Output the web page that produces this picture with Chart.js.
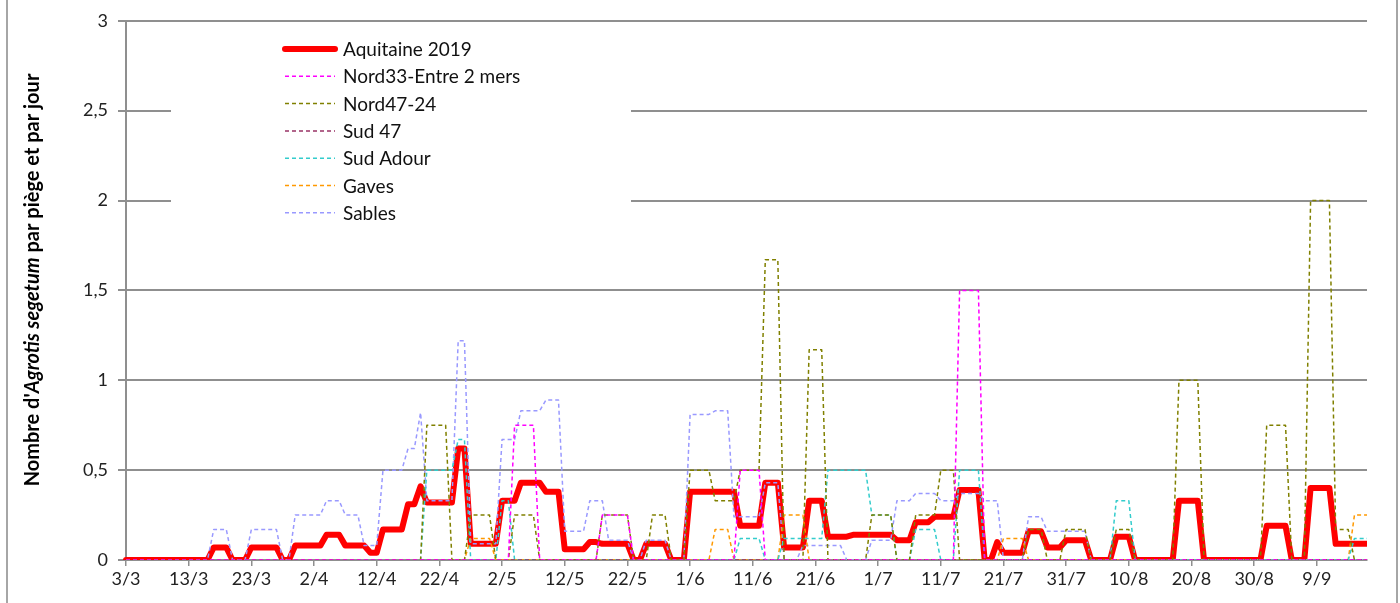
<!DOCTYPE html>
<html>
<head>
<meta charset="utf-8">
<script src="https://cdn.jsdelivr.net/npm/chart.js@4.4.1/dist/chart.umd.min.js"></script>
<style>
  body { margin: 0; background: #fff; }
  #wrap { width: 1400px; height: 603px; }
</style>
</head>
<body>
<div id="wrap"><canvas id="piegeChart" width="1400" height="603"></canvas></div>
<script>
// one value per day, from 3/3 (index 0) to 17/9 (index 198)
const startDay = new Date(2019, 2, 3);
const tickLabels = ['3/3', '13/3', '23/3', '2/4', '12/4', '22/4', '2/5', '12/5', '22/5', '1/6',
  '11/6', '21/6', '1/7', '11/7', '21/7', '31/7', '10/8', '20/8', '30/8', '9/9'];
const yTicks = [0, 0.5, 1, 1.5, 2, 2.5, 3];

const aquitaine = [
  0, 0, 0, 0, 0, 0, 0, 0, 0, 0,
  0, 0, 0, 0, 0.07, 0.07, 0.07, 0, 0, 0,
  0.07, 0.07, 0.07, 0.07, 0.07, 0, 0, 0.08, 0.08, 0.08,
  0.08, 0.08, 0.14, 0.14, 0.14, 0.08, 0.08, 0.08, 0.08, 0.04,
  0.04, 0.17, 0.17, 0.17, 0.17, 0.31, 0.31, 0.41, 0.32, 0.32,
  0.32, 0.32, 0.32, 0.62, 0.62, 0.09, 0.09, 0.09, 0.09, 0.09,
  0.33, 0.33, 0.33, 0.43, 0.43, 0.43, 0.43, 0.38, 0.38, 0.38,
  0.06, 0.06, 0.06, 0.06, 0.10, 0.10, 0.09, 0.09, 0.09, 0.09,
  0.09, 0, 0, 0.09, 0.09, 0.09, 0.09, 0, 0, 0,
  0.38, 0.38, 0.38, 0.38, 0.38, 0.38, 0.38, 0.38, 0.19, 0.19,
  0.19, 0.19, 0.43, 0.43, 0.43, 0.07, 0.07, 0.07, 0.07, 0.33,
  0.33, 0.33, 0.13, 0.13, 0.13, 0.13, 0.14, 0.14, 0.14, 0.14,
  0.14, 0.14, 0.14, 0.11, 0.11, 0.11, 0.21, 0.21, 0.21, 0.24,
  0.24, 0.24, 0.24, 0.39, 0.39, 0.39, 0.39, 0, 0, 0.10,
  0.04, 0.04, 0.04, 0.04, 0.16, 0.16, 0.16, 0.07, 0.07, 0.07,
  0.11, 0.11, 0.11, 0.11, 0, 0, 0, 0, 0.13, 0.13,
  0.13, 0, 0, 0, 0, 0, 0, 0, 0.33, 0.33,
  0.33, 0.33, 0, 0, 0, 0, 0, 0, 0, 0,
  0, 0, 0.19, 0.19, 0.19, 0.19, 0, 0, 0, 0.40,
  0.40, 0.40, 0.40, 0.09, 0.09, 0.09, 0.09, 0.09, 0.09
];

const nord33 = [
  0, 0, 0, 0, 0, 0, 0, 0, 0, 0,
  0, 0, 0, 0, 0, 0, 0, 0, 0, 0,
  0, 0, 0, 0, 0, 0, 0, 0, 0, 0,
  0, 0, 0, 0, 0, 0, 0, 0, 0, 0,
  0, 0, 0, 0, 0, 0, 0, 0, 0, 0,
  0, 0, 0, 0, 0, 0, 0, 0, 0, 0,
  0, 0, 0.75, 0.75, 0.75, 0.75, 0, 0, 0, 0,
  0, 0, 0, 0, 0, 0, 0.25, 0.25, 0.25, 0.25,
  0.25, 0, 0, 0, 0, 0, 0, 0, 0, 0,
  0, 0, 0, 0, 0, 0, 0, 0, 0.5, 0.5,
  0.5, 0.5, 0, 0, 0, 0, 0, 0, 0, 0,
  0, 0, 0, 0, 0, 0, 0, 0, 0, 0,
  0, 0, 0, 0, 0, 0, 0, 0, 0, 0,
  0, 0, 0, 1.5, 1.5, 1.5, 1.5, 0, 0, 0,
  0, 0, 0, 0, 0, 0, 0, 0, 0, 0,
  0, 0, 0, 0, 0, 0, 0, 0, 0, 0,
  0, 0, 0, 0, 0, 0, 0, 0, 0, 0,
  0, 0, 0, 0, 0, 0, 0, 0, 0, 0,
  0, 0, 0, 0, 0, 0, 0, 0, 0, 0,
  0, 0, 0, 0, 0, 0, 0, 0, 0
];

const nord47 = [
  0, 0, 0, 0, 0, 0, 0, 0, 0, 0,
  0, 0, 0, 0, 0, 0, 0, 0, 0, 0,
  0, 0, 0, 0, 0, 0, 0, 0, 0, 0,
  0, 0, 0, 0, 0, 0, 0, 0, 0, 0,
  0, 0, 0, 0, 0, 0, 0, 0, 0.75, 0.75,
  0.75, 0.75, 0, 0, 0, 0.25, 0.25, 0.25, 0.25, 0,
  0, 0, 0.25, 0.25, 0.25, 0.25, 0, 0, 0, 0,
  0, 0, 0, 0, 0, 0, 0.25, 0.25, 0.25, 0.25,
  0.25, 0, 0, 0, 0.25, 0.25, 0.25, 0, 0, 0,
  0.5, 0.5, 0.5, 0.5, 0.33, 0.33, 0.33, 0.33, 0.5, 0.5,
  0.5, 0.5, 1.67, 1.67, 1.67, 0, 0, 0, 0, 1.17,
  1.17, 1.17, 0, 0, 0, 0, 0, 0, 0, 0.25,
  0.25, 0.25, 0.25, 0, 0, 0, 0.25, 0.25, 0.25, 0.25,
  0.5, 0.5, 0.5, 0, 0, 0, 0, 0, 0, 0,
  0, 0, 0, 0, 0.17, 0.17, 0.17, 0, 0, 0,
  0.17, 0.17, 0.17, 0.17, 0, 0, 0, 0, 0.17, 0.17,
  0.17, 0, 0, 0, 0, 0, 0, 0, 1, 1,
  1, 1, 0, 0, 0, 0, 0, 0, 0, 0,
  0, 0, 0.75, 0.75, 0.75, 0.75, 0, 0, 0, 2,
  2, 2, 2, 0.17, 0.17, 0.17, 0, 0, 0
];

const sud47 = [
  0, 0, 0, 0, 0, 0, 0, 0, 0, 0,
  0, 0, 0, 0, 0, 0, 0, 0, 0, 0,
  0, 0, 0, 0, 0, 0, 0, 0, 0, 0,
  0, 0, 0, 0, 0, 0, 0, 0, 0, 0,
  0, 0, 0, 0, 0, 0, 0, 0, 0, 0,
  0, 0, 0, 0, 0, 0, 0, 0, 0, 0,
  0, 0, 0, 0, 0, 0, 0, 0, 0, 0,
  0, 0, 0, 0, 0, 0, 0, 0, 0, 0,
  0, 0, 0, 0, 0, 0, 0, 0, 0, 0,
  0, 0, 0, 0, 0, 0, 0, 0, 0, 0,
  0, 0, 0, 0, 0, 0, 0, 0, 0, 0,
  0, 0, 0, 0, 0, 0, 0, 0, 0, 0,
  0, 0, 0, 0, 0, 0, 0, 0, 0, 0,
  0, 0, 0, 0, 0, 0, 0, 0, 0, 0,
  0, 0, 0, 0, 0, 0, 0, 0, 0, 0,
  0, 0, 0, 0, 0, 0, 0, 0, 0, 0,
  0, 0, 0, 0, 0, 0, 0, 0, 0, 0,
  0, 0, 0, 0, 0, 0, 0, 0, 0, 0,
  0, 0, 0, 0, 0, 0, 0, 0, 0, 0,
  0, 0, 0, 0, 0, 0, 0, 0, 0
];

const sudAdour = [
  0, 0, 0, 0, 0, 0, 0, 0, 0, 0,
  0, 0, 0, 0, 0, 0, 0, 0, 0, 0,
  0, 0, 0, 0, 0, 0, 0, 0, 0, 0,
  0, 0, 0, 0, 0, 0, 0, 0, 0, 0,
  0, 0, 0, 0, 0, 0, 0, 0, 0.5, 0.5,
  0.5, 0.5, 0.5, 0.67, 0.67, 0, 0, 0, 0, 0,
  0.33, 0.33, 0, 0, 0, 0, 0, 0, 0, 0,
  0, 0, 0, 0, 0, 0, 0, 0, 0, 0,
  0, 0, 0, 0, 0, 0, 0, 0, 0, 0,
  0, 0, 0, 0, 0, 0, 0, 0, 0.12, 0.12,
  0.12, 0.12, 0, 0, 0, 0.12, 0.12, 0.12, 0.12, 0.12,
  0.12, 0.12, 0.5, 0.5, 0.5, 0.5, 0.5, 0.5, 0.5, 0.25,
  0.25, 0.25, 0.25, 0, 0, 0, 0.17, 0.17, 0.17, 0.17,
  0, 0, 0, 0.5, 0.5, 0.5, 0.5, 0, 0, 0,
  0, 0, 0, 0, 0, 0, 0, 0, 0, 0,
  0, 0, 0, 0, 0, 0, 0, 0, 0.33, 0.33,
  0.33, 0, 0, 0, 0, 0, 0, 0, 0, 0,
  0, 0, 0, 0, 0, 0, 0, 0, 0, 0,
  0, 0, 0, 0, 0, 0, 0, 0, 0, 0,
  0, 0, 0, 0, 0, 0, 0.12, 0.12, 0.12
];

const gaves = [
  0, 0, 0, 0, 0, 0, 0, 0, 0, 0,
  0, 0, 0, 0, 0, 0, 0, 0, 0, 0,
  0, 0, 0, 0, 0, 0, 0, 0, 0, 0,
  0, 0, 0, 0, 0, 0, 0, 0, 0, 0,
  0, 0, 0, 0, 0, 0, 0, 0, 0, 0,
  0, 0, 0, 0, 0, 0.12, 0.12, 0.12, 0.12, 0,
  0, 0, 0, 0, 0, 0, 0, 0, 0, 0,
  0, 0, 0, 0, 0, 0, 0, 0, 0, 0,
  0, 0, 0, 0, 0, 0, 0, 0, 0, 0,
  0, 0, 0, 0, 0.17, 0.17, 0.17, 0, 0, 0,
  0, 0, 0, 0, 0, 0.25, 0.25, 0.25, 0.25, 0,
  0, 0, 0, 0, 0, 0, 0, 0, 0, 0,
  0, 0, 0, 0, 0, 0, 0, 0, 0, 0,
  0, 0, 0, 0, 0, 0, 0, 0, 0, 0,
  0.12, 0.12, 0.12, 0.12, 0, 0, 0, 0, 0, 0,
  0, 0, 0, 0, 0, 0, 0, 0, 0, 0,
  0, 0, 0, 0, 0, 0, 0, 0, 0, 0,
  0, 0, 0, 0, 0, 0, 0, 0, 0, 0,
  0, 0, 0, 0, 0, 0, 0, 0, 0, 0,
  0, 0, 0, 0, 0, 0, 0.25, 0.25, 0.25
];

const sables = [
  0, 0, 0, 0, 0, 0, 0, 0, 0, 0,
  0, 0, 0, 0, 0.17, 0.17, 0.17, 0, 0, 0,
  0.17, 0.17, 0.17, 0.17, 0.17, 0, 0, 0.25, 0.25, 0.25,
  0.25, 0.25, 0.33, 0.33, 0.33, 0.25, 0.25, 0.25, 0.08, 0.08,
  0.08, 0.5, 0.5, 0.5, 0.5, 0.62, 0.62, 0.82, 0.33, 0.33,
  0.33, 0.33, 0.33, 1.22, 1.22, 0.09, 0.09, 0.09, 0.09, 0.09,
  0.67, 0.67, 0.67, 0.83, 0.83, 0.83, 0.83, 0.89, 0.89, 0.89,
  0.16, 0.16, 0.16, 0.16, 0.33, 0.33, 0.33, 0.11, 0.11, 0.11,
  0.11, 0, 0, 0.11, 0.11, 0.11, 0.11, 0, 0, 0,
  0.81, 0.81, 0.81, 0.81, 0.83, 0.83, 0.83, 0.24, 0.24, 0.24,
  0.24, 0.24, 0.43, 0.43, 0.43, 0, 0, 0, 0.08, 0.08,
  0.08, 0.08, 0.08, 0.08, 0.08, 0, 0, 0, 0, 0.11,
  0.11, 0.11, 0.11, 0.33, 0.33, 0.33, 0.37, 0.37, 0.37, 0.37,
  0.33, 0.33, 0.33, 0.37, 0.37, 0.37, 0.37, 0.33, 0.33, 0.33,
  0, 0, 0, 0, 0.24, 0.24, 0.24, 0.16, 0.16, 0.16,
  0.16, 0.16, 0.16, 0.16, 0, 0, 0, 0, 0, 0,
  0, 0, 0, 0, 0, 0, 0, 0, 0, 0,
  0, 0, 0, 0, 0, 0, 0, 0, 0, 0,
  0, 0, 0, 0, 0, 0, 0, 0, 0, 0,
  0, 0, 0, 0, 0, 0, 0, 0, 0
];

const seriesNames = ['Aquitaine 2019', 'Nord33-Entre 2 mers', 'Nord47-24', 'Sud 47', 'Sud Adour', 'Gaves', 'Sables'];
const seriesColors = ['#ff0000', '#ff00ff', '#808000', '#993366', '#33cccc', '#ff9900', '#9999ff'];
const seriesValues = [aquitaine, nord33, nord47, sud47, sudAdour, gaves, sables];

const dayLabels = aquitaine.map((v, i) => {
  const d = new Date(startDay);
  d.setDate(d.getDate() + i);
  return d.getDate() + '/' + (d.getMonth() + 1);
});

const GRID = '#8f8f8f';
const FONT = 'Lato, "Liberation Sans", sans-serif';

// legend box drawn inside the plot, like the spreadsheet original
const boxLegend = {
  id: 'boxLegend',
  afterDatasetsDraw(chart) {
    const c = chart.ctx;
    c.save();
    c.fillStyle = '#fff';
    c.fillRect(171, 27, 460, 214);
    c.font = '19px ' + FONT;
    c.textBaseline = 'middle';
    seriesNames.forEach((name, i) => {
      const y = 49 + i * 27.3;
      c.beginPath();
      c.strokeStyle = seriesColors[i];
      if (i === 0) {
        c.lineWidth = 6;
        c.setLineDash([]);
        c.lineCap = 'round';
      } else {
        c.lineWidth = 1.5;
        c.setLineDash([4, 3]);
        c.lineCap = 'butt';
      }
      c.moveTo(285, y);
      c.lineTo(335, y);
      c.stroke();
      c.fillStyle = '#111';
      c.fillText(name, 343, y + 1);
    });
    c.restore();
  }
};

// y title with the species name in italics, plus the outer frame
const yTitle = {
  id: 'yTitle',
  afterDraw(chart) {
    const c = chart.ctx;
    const parts = [["Nombre d'", 'bold'], ['Agrotis segetum', 'italic bold'], [' par piège et par jour', 'bold']];
    c.save();
    c.translate(33, 280);
    c.rotate(-Math.PI / 2);
    c.fillStyle = '#000';
    c.textBaseline = 'middle';
    let total = 0;
    parts.forEach(p => { c.font = p[1] + ' 20px ' + FONT; total += c.measureText(p[0]).width; });
    let x = -total / 2;
    parts.forEach(p => {
      c.font = p[1] + ' 20px ' + FONT;
      c.fillText(p[0], x, 0);
      x += c.measureText(p[0]).width;
    });
    c.restore();

    c.save();
    c.strokeStyle = '#a6a6a6';
    c.lineWidth = 2;
    c.beginPath();
    c.moveTo(7, 0); c.lineTo(7, 603);
    c.moveTo(1397, 0); c.lineTo(1397, 603);
    c.stroke();
    c.restore();
  }
};

const datasets = seriesNames.map((name, i) => ({
  label: name,
  data: seriesValues[i],
  borderColor: seriesColors[i],
  backgroundColor: seriesColors[i],
  borderWidth: i === 0 ? 6 : 1.5,
  borderDash: i === 0 ? [] : [4, 3],
  borderJoinStyle: 'round',
  borderCapStyle: i === 0 ? 'round' : 'butt',
  pointRadius: 0,
  tension: 0,
  fill: false,
  clip: { left: false, top: false, right: 0, bottom: 0 },
  order: i === 0 ? 1 : 0
}));

new Chart(document.getElementById('piegeChart'), {
  type: 'line',
  data: { labels: dayLabels, datasets: datasets },
  options: {
    responsive: false,
    animation: false,
    events: [],
    layout: { padding: { top: 20, right: 33, left: 0, bottom: 0 } },
    plugins: {
      legend: { display: false },
      tooltip: { enabled: false }
    },
    scales: {
      x: {
        offset: false,
        grid: { drawOnChartArea: false, color: GRID, lineWidth: 1.5, tickLength: 6 },
        border: { color: GRID, width: 2 },
        ticks: {
          autoSkip: false,
          maxRotation: 0,
          color: '#222',
          font: { family: FONT, size: 18 },
          padding: 2,
          callback: (v, i) => (i % 10 === 0 ? tickLabels[i / 10] : null)
        },
        afterFit: s => { s.height = 43; }
      },
      y: {
        min: 0,
        max: 3,
        afterBuildTicks: s => { s.ticks = yTicks.map(v => ({ value: v })); },
        ticks: {
          color: '#222',
          font: { family: FONT, size: 18 },
          padding: 10,
          callback: v => String(v).replace('.', ',')
        },
        grid: { color: GRID, lineWidth: 2, tickLength: 8 },
        border: { color: GRID, width: 2 },
        afterFit: s => { s.width = 126; }
      }
    }
  },
  plugins: [boxLegend, yTitle]
});
</script>
</body>
</html>
